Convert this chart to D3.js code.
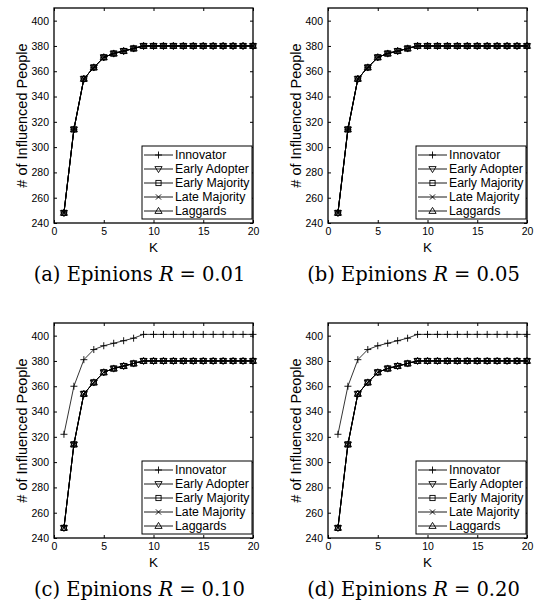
<!DOCTYPE html>
<html>
<head>
<meta charset="utf-8">
<script src="https://cdn.jsdelivr.net/npm/d3@7"></script>
<style>
  body { margin: 0; background: #fff; }
  text { font-family: "Liberation Sans", Arial, sans-serif; fill: #000; }
  .caption { font-family: "DejaVu Serif", "Liberation Serif", serif; }
</style>
</head>
<body>
<div id="chart"></div>
<script>
// data
const kValues = d3.range(1, 21);
const innovatorLow  = [248, 314, 354, 363, 371, 374, 376, 378, 380, 380, 380, 380, 380, 380, 380, 380, 380, 380, 380, 380];
const innovatorHigh = [322, 360, 381, 389, 392, 394, 396, 398, 401, 401, 401, 401, 401, 401, 401, 401, 401, 401, 401, 401];
const earlyAdopter  = [248, 314, 354, 363, 371, 374, 376, 378, 380, 380, 380, 380, 380, 380, 380, 380, 380, 380, 380, 380];
const earlyMajority = [248, 314, 354, 363, 371, 374, 376, 378, 380, 380, 380, 380, 380, 380, 380, 380, 380, 380, 380, 380];
const lateMajority  = [248, 314, 354, 363, 371, 374, 376, 378, 380, 380, 380, 380, 380, 380, 380, 380, 380, 380, 380, 380];
const laggards      = [248, 314, 354, 363, 371, 374, 376, 378, 380, 380, 380, 380, 380, 380, 380, 380, 380, 380, 380, 380];
const seriesNames = ["Innovator", "Early Adopter", "Early Majority", "Late Majority", "Laggards"];
const panelLetters = ["a", "b", "c", "d"];
const panelR = ["0.01", "0.05", "0.10", "0.20"];
const xTicks = [0, 5, 10, 15, 20];
const yTicks = [240, 260, 280, 300, 320, 340, 360, 380, 400];

const W = 537, H = 606;
const pw = 199, ph = 215;
const lefts = [54, 328], tops = [8, 323];

const svg = d3.select("#chart").append("svg")
  .attr("width", W).attr("height", H);

const x = d3.scaleLinear().domain([0, 20]).range([0, pw]);
const y = d3.scaleLinear().domain([240, 410]).range([ph, 0]);

const markers = {
  "Innovator": g => g.append("path").attr("d", "M-3.5,0H3.5M0,-3.5V3.5").attr("fill", "none"),
  "Early Adopter": g => g.append("path").attr("d", "M-3.6,-2.4L3.6,-2.4L0,3.6Z").attr("fill", "none"),
  "Early Majority": g => g.append("rect").attr("x", -2.6).attr("y", -2.6).attr("width", 5.2).attr("height", 5.2).attr("fill", "none"),
  "Late Majority": g => g.append("path").attr("d", "M-2.6,-2.6L2.6,2.6M-2.6,2.6L2.6,-2.6").attr("fill", "none"),
  "Laggards": g => g.append("path").attr("d", "M-3.6,2.4L3.6,2.4L0,-3.6Z").attr("fill", "none")
};

const line = d3.line().x((d, i) => x(kValues[i])).y(d => y(d));

panelLetters.forEach((letter, p) => {
  const col = p % 2, row = Math.floor(p / 2);
  const g = svg.append("g").attr("transform", `translate(${lefts[col]},${tops[row]})`);
  const innov = row === 0 ? innovatorLow : innovatorHigh;
  const data = [innov, earlyAdopter, earlyMajority, lateMajority, laggards];

  // lines and markers
  data.forEach((vals, s) => {
    g.append("path").datum(vals).attr("d", line)
      .attr("fill", "none").attr("stroke", "#000").attr("stroke-width", s === 0 ? 0.8 : 1);
    vals.forEach((v, i) => {
      const m = g.append("g").attr("transform", `translate(${x(kValues[i])},${y(v)})`)
        .attr("stroke", "#000").attr("stroke-width", 0.9);
      markers[seriesNames[s]](m);
    });
  });

  // axes, ticks inward on all sides
  const tl = 3;
  g.append("g").attr("transform", `translate(0,${ph})`)
    .call(d3.axisBottom(x).tickValues(xTicks).tickSizeInner(-tl).tickSizeOuter(0).tickPadding(5))
    .call(a => a.select(".domain").remove())
    .call(a => a.selectAll("text").attr("font-size", 10.5).attr("font-family", "Liberation Sans, Arial, sans-serif"));
  g.append("g")
    .call(d3.axisTop(x).tickValues(xTicks).tickSizeInner(-tl).tickSizeOuter(0).tickFormat(""))
    .call(a => a.select(".domain").remove());
  g.append("g")
    .call(d3.axisLeft(y).tickValues(yTicks).tickSizeInner(-tl).tickSizeOuter(0).tickPadding(5))
    .call(a => a.select(".domain").remove())
    .call(a => a.selectAll("text").attr("font-size", 10.5).attr("font-family", "Liberation Sans, Arial, sans-serif"));
  g.append("g").attr("transform", `translate(${pw},0)`)
    .call(d3.axisRight(y).tickValues(yTicks).tickSizeInner(-tl).tickSizeOuter(0).tickFormat(""))
    .call(a => a.select(".domain").remove());

  g.append("rect").attr("width", pw).attr("height", ph)
    .attr("fill", "none").attr("stroke", "#000").attr("stroke-width", 1.3);

  // axis labels
  g.append("text").attr("x", pw / 2).attr("y", ph + 29)
    .attr("text-anchor", "middle").attr("font-size", 13.5).text("K");
  g.append("text").attr("transform", `translate(-27,${ph / 2}) rotate(-90)`)
    .attr("text-anchor", "middle").attr("font-size", 14.5).text("# of Influenced People");

  // legend
  const lg = g.append("g").attr("transform", `translate(${pw - 111},${ph - 77})`);
  lg.append("rect").attr("width", 110).attr("height", 73)
    .attr("fill", "#fff").attr("stroke", "#000").attr("stroke-width", 1);
  seriesNames.forEach((name, s) => {
    const ly = 9 + s * 14;
    lg.append("line").attr("x1", 2).attr("x2", 31).attr("y1", ly).attr("y2", ly)
      .attr("stroke", "#000").attr("stroke-width", 0.9);
    const m = lg.append("g").attr("transform", `translate(16.5,${ly})`)
      .attr("stroke", "#000").attr("stroke-width", 0.9);
    markers[name](m);
    lg.append("text").attr("x", 33).attr("y", ly).attr("dy", "0.35em")
      .attr("font-size", 12.3).text(name);
  });

  // caption
  const cap = svg.append("text").attr("class", "caption")
    .attr("x", lefts[col] + pw / 2 - 14).attr("y", tops[row] + ph + 58)
    .attr("text-anchor", "middle").attr("font-size", 19.5);
  cap.append("tspan").text(`(${letter}) Epinions `);
  cap.append("tspan").attr("font-style", "italic").text("R");
  cap.append("tspan").attr("dx", 6).text("=");
  cap.append("tspan").attr("dx", 6).text(panelR[p]);
});
</script>
</body>
</html>
